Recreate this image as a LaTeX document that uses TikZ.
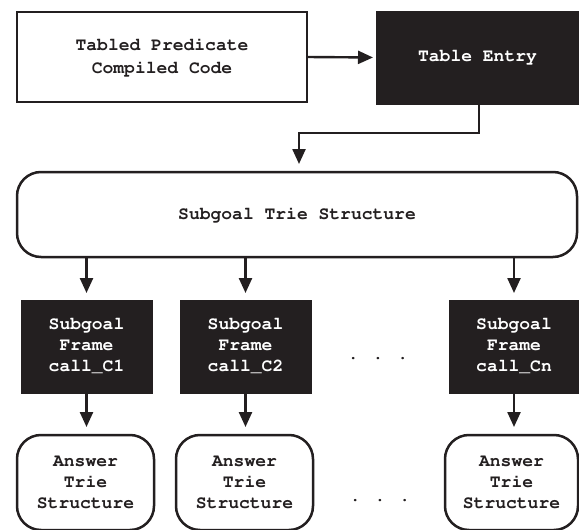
\documentclass[tikz,border=0pt]{standalone}
\usepackage[T1]{fontenc}
\usepackage{courier}
\usetikzlibrary{arrows.meta}
\definecolor{ink}{RGB}{35,31,32}
\begin{document}
\begin{tikzpicture}[x=1pt,y=-1pt,
  every node/.style={inner sep=0pt,outer sep=0pt,align=center,
    font=\ttfamily\bfseries\fontsize{18}{21}\selectfont},
  whitebox/.style={draw=ink,line width=2.5pt,fill=white,text=ink},
  blackbox/.style={draw=ink,line width=0.5pt,fill=ink,text=white},
  roundbox/.style={whitebox,rounded corners=24pt},
  conn/.style={draw=ink,line width=2.4pt,-{Triangle[length=15pt,width=13pt]}},
  dotsnode/.style={text=ink}
]
\useasboundingbox (0,0) rectangle (579,530);
\clip (0,0) rectangle (579,530);
\node[whitebox,minimum width=290pt,minimum height=90pt,
  font=\ttfamily\bfseries\fontsize{18}{23}\selectfont] (tp) at (162,57)
  {Tabled Predicate\\Compiled Code};
\node[blackbox,minimum width=203pt,minimum height=93pt] (te) at (477.5,57.5) {Table Entry};
\node[roundbox,minimum width=560pt,minimum height=85pt] (st) at (297,214.5) {Subgoal Trie Structure};
\node[blackbox,minimum width=131pt,minimum height=93pt] (f1) at (86.5,346.5) {Subgoal\\Frame\\call\_C1};
\node[blackbox,minimum width=131pt,minimum height=93pt] (f2) at (245.5,346.5) {Subgoal\\Frame\\call\_C2};
\node[blackbox,minimum width=130pt,minimum height=93pt] (fn) at (514,346.5) {Subgoal\\Frame\\call\_Cn};
\node[roundbox,minimum width=137pt,minimum height=95pt] (a1) at (85.5,482.5) {Answer\\Trie\\Structure};
\node[roundbox,minimum width=137pt,minimum height=95pt] (a2) at (244.5,482.5) {Answer\\Trie\\Structure};
\node[roundbox,minimum width=133pt,minimum height=95pt] (an) at (511.5,482.5) {Answer\\Trie\\Structure};
\node[dotsnode] (d1) at (378,358) {.\kern14pt.\kern14pt.};
\node[dotsnode] (d2) at (380,500) {.\kern14pt.\kern14pt.};
\coordinate (bend1) at (479,133);
\coordinate (bend2) at (299,133);
\draw[conn,shorten >=3pt] (tp.east) -- (te.west);
\draw[conn,shorten >=8pt] (te.south -| bend1) -- (bend1) -- (bend2) -- (bend2 |- st.north);
\draw[conn,shorten >=7pt] (f1.north |- st.south) -- (f1.north);
\draw[conn,shorten >=7pt] (f2.north |- st.south) -- (f2.north);
\draw[conn,shorten >=7pt] (fn.north |- st.south) -- (fn.north);
\draw[conn,shorten >=8pt] (f1.south) -- (f1.south |- a1.north);
\draw[conn,shorten >=8pt] (f2.south) -- (f2.south |- a2.north);
\draw[conn,shorten >=8pt] (fn.south) -- (fn.south |- an.north);
\end{tikzpicture}
\end{document}
